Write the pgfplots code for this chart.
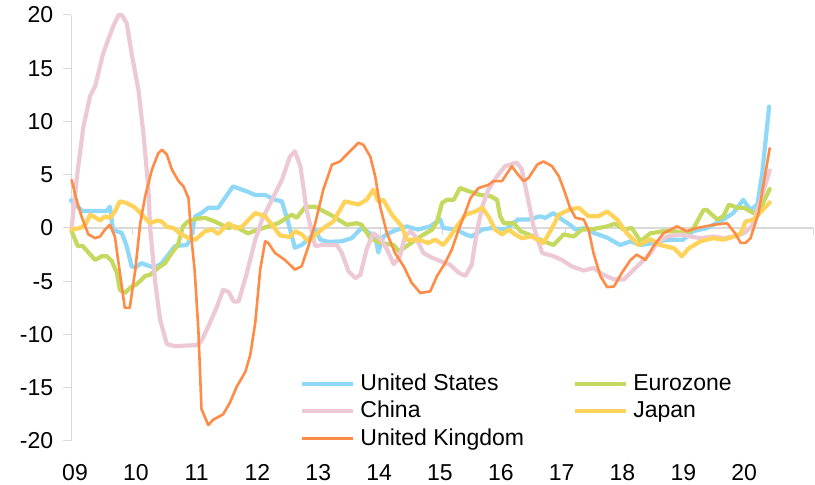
\documentclass[border=0pt]{standalone}
\usepackage{pgfplots}
\pgfplotsset{compat=1.18}
\usepackage{fontspec}
\setmainfont{Liberation Sans}
\definecolor{cUS}{HTML}{8FD8F8}
\definecolor{cEZ}{HTML}{C5D95F}
\definecolor{cCN}{HTML}{ECC9D5}
\definecolor{cJP}{HTML}{FFD25A}
\definecolor{cUK}{HTML}{FF8C46}
\definecolor{axgray}{HTML}{D9D9D9}
\begin{document}
\fontsize{23}{27}\selectfont
\begin{tikzpicture}
\begin{axis}[
  scale only axis,
  width=742pt, height=426pt,
  xmin=2009, xmax=2021,
  ymin=-20, ymax=20,
  axis x line*=bottom,
  axis y line*=left,
  x axis line style={draw=none},
  y axis line style={axgray, line width=1pt},
  xtick={2009.065,2010.048,2011.032,2012.016,2012.999,2013.983,2014.967,2015.951,2016.935,2017.919,2018.903,2019.887},
  xticklabels={09,10,11,12,13,14,15,16,17,18,19,20},
  x tick style={draw=none},
  ytick={-20,-15,-10,-5,0,5,10,15,20},
  yticklabels={-20,-15,-10,-5,0,5,10,15,20},
  y tick style={axgray, line width=1pt},
  tick align=outside,
  major tick length=8pt,
  tick label style={font=\fontsize{23}{27}\selectfont, text=black},
  xticklabel style={yshift=-8pt},
  yticklabel style={xshift=-2pt},
  clip=false,
  legend columns=2,
  legend cell align=left,
  legend image code/.code={\draw[#1, line cap=butt] (0pt,0pt) -- (51pt,0pt);},
  legend style={draw=none, fill=none, inner sep=0pt, outer sep=0pt,
    at={(0.309,0.157)}, anchor=north west,
    font=\fontsize{23}{27}\selectfont,
    row sep=7pt, column sep=0pt,
    nodes={inner xsep=0pt, inner ysep=0pt},
    /tikz/every odd column/.append style={column sep=5pt},
    /tikz/every even column/.append style={column sep=49pt}},
  every axis plot/.append style={line join=round, line cap=round},
]
\draw[axgray, line width=1.5pt] (axis cs:2009,0) -- (axis cs:2021,0);
\pgfplotsinvokeforeach{2010,2011,2012,2013,2014,2015,2016,2017,2018,2019,2020,2021}{
  \draw[axgray, line width=1pt] (axis cs:#1,0) -- ++(0pt,-7pt);
}
% United States
\addplot[cUS, line width=4.2pt] coordinates {
(2009.00,2.6)(2009.18,1.6)(2009.58,1.6)(2009.63,2.0)(2009.68,-0.2)(2009.82,-0.45)
(2009.90,-1.7)(2009.98,-3.6)(2010.04,-3.7)(2010.14,-3.3)(2010.28,-3.6)(2010.36,-3.7)
(2010.47,-3.3)(2010.68,-1.7)(2010.87,-1.6)(2010.93,-1.1)(2011.01,1.1)(2011.11,1.4)
(2011.22,1.9)(2011.38,1.9)(2011.62,3.9)(2011.86,3.4)(2011.98,3.1)(2012.14,3.1)
(2012.30,2.65)(2012.41,2.5)(2012.51,0.6)(2012.62,-1.85)(2012.73,-1.6)(2012.87,-0.9)
(2012.95,-0.15)(2013.03,-1.1)(2013.16,-1.3)(2013.38,-1.25)(2013.54,-0.95)(2013.70,0)
(2013.92,-0.8)(2013.97,-2.3)(2014.05,-0.8)(2014.21,-0.3)(2014.43,0.15)(2014.61,-0.15)
(2014.81,0.15)(2014.97,0.8)(2015.02,0)(2015.24,-0.15)(2015.38,-0.6)(2015.48,-0.8)
(2015.65,-0.15)(2015.81,0)(2016.02,-0.15)(2016.23,0.8)(2016.40,0.8)(2016.59,1.1)
(2016.67,0.95)(2016.80,1.4)(2016.94,0.8)(2017.07,0.3)(2017.16,-0.15)(2017.32,0)
(2017.45,-0.45)(2017.67,-0.9)(2017.88,-1.6)(2018.05,-1.25)(2018.21,-1.6)(2018.42,-1.4)
(2018.64,-1.1)(2018.90,-1.1)(2019.06,-0.3)(2019.29,0)(2019.55,0.8)(2019.71,1.4)
(2019.87,2.65)(2019.99,1.7)(2020.10,2.2)(2020.18,5.2)(2020.29,11.4)
};
\addlegendentry{United States}
% Eurozone
\addplot[cEZ, line width=4.2pt] coordinates {
(2009.01,-0.3)(2009.11,-1.7)(2009.19,-1.7)(2009.39,-3.0)(2009.50,-2.65)(2009.58,-2.65)
(2009.66,-3.1)(2009.74,-4.2)(2009.79,-5.8)(2009.87,-6.1)(2009.98,-5.5)(2010.06,-5.3)
(2010.20,-4.5)(2010.28,-4.4)(2010.41,-3.75)(2010.52,-3.3)(2010.63,-2.35)(2010.73,-1.6)
(2010.81,0.15)(2010.89,0.6)(2011.01,0.85)(2011.17,0.95)(2011.33,0.6)(2011.54,0)
(2011.65,0.15)(2011.86,-0.5)(2012.03,-0.15)(2012.35,0.45)(2012.57,1.25)(2012.65,0.95)
(2012.79,2.0)(2012.95,2.0)(2013.24,1.1)(2013.46,0.3)(2013.62,0.45)(2013.70,0.3)
(2013.84,-0.95)(2014.00,-1.4)(2014.22,-1.6)(2014.30,-2.2)(2014.43,-1.7)(2014.65,-0.8)
(2014.84,-0.15)(2014.92,0.6)(2015.00,2.35)(2015.08,2.65)(2015.19,2.65)(2015.29,3.75)
(2015.46,3.4)(2015.62,3.1)(2015.78,3.0)(2015.89,2.65)(2015.94,1.1)(2016.00,0.45)
(2016.16,0.45)(2016.27,-0.3)(2016.48,-0.8)(2016.59,-1.1)(2016.80,-1.6)(2016.97,-0.6)
(2017.13,-0.8)(2017.26,-0.15)(2017.45,-0.1)(2017.67,0.15)(2017.80,0.4)(2017.94,-0.15)
(2018.07,0)(2018.21,-1.25)(2018.37,-0.5)(2018.58,-0.3)(2018.75,-0.3)(2018.96,-0.5)
(2019.07,0)(2019.23,1.7)(2019.28,1.7)(2019.45,0.8)(2019.55,1.1)(2019.64,2.2)
(2019.77,1.9)(2019.88,1.9)(2020.04,1.4)(2020.15,1.9)(2020.30,3.65)
};
\addlegendentry{Eurozone}
% China
\addplot[cCN, line width=4.2pt] coordinates {
(2009.01,0.0)(2009.10,5.0)(2009.20,9.5)(2009.31,12.4)(2009.39,13.3)(2009.52,16.4)
(2009.68,18.9)(2009.77,20)(2009.82,20)(2009.90,19.25)(2009.98,16.4)(2010.09,13)
(2010.17,8.9)(2010.25,3.9)(2010.28,0)(2010.36,-5)(2010.44,-8.6)(2010.55,-10.9)
(2010.68,-11.1)(2010.82,-11.05)(2011.03,-11.0)(2011.11,-10.6)(2011.22,-9.25)(2011.36,-7.4)
(2011.46,-5.8)(2011.55,-6.0)(2011.63,-6.9)(2011.71,-6.9)(2011.84,-4.3)(2011.98,-1.1)
(2012.09,0.8)(2012.25,2.65)(2012.41,4.5)(2012.54,6.7)(2012.62,7.2)(2012.71,5.8)
(2012.81,1.7)(2012.95,-1.7)(2013.06,-1.6)(2013.30,-1.6)(2013.38,-2.35)(2013.49,-4.1)
(2013.60,-4.7)(2013.68,-4.4)(2013.78,-2.0)(2013.89,-0.5)(2014.00,-0.95)(2014.11,-2.0)
(2014.22,-3.4)(2014.32,-2.65)(2014.40,-0.8)(2014.49,-0.3)(2014.57,-0.8)(2014.70,-2.35)
(2014.84,-2.8)(2014.97,-3.1)(2015.13,-3.45)(2015.27,-4.2)(2015.38,-4.5)(2015.48,-3.45)
(2015.56,-0.5)(2015.65,2.0)(2015.75,3.6)(2015.89,4.85)(2016.02,5.8)(2016.21,6.15)
(2016.29,5.5)(2016.37,3.3)(2016.48,0.15)(2016.62,-2.35)(2016.78,-2.6)(2016.94,-3.0)
(2017.10,-3.6)(2017.29,-4.0)(2017.45,-3.75)(2017.61,-4.4)(2017.77,-4.8)(2017.94,-4.85)
(2018.05,-4.2)(2018.21,-3.3)(2018.37,-2.35)(2018.48,-1.4)(2018.64,-0.8)(2018.85,-0.6)
(2019.02,-0.8)(2019.18,-0.95)(2019.39,-0.8)(2019.55,-0.95)(2019.72,-0.8)(2019.88,-0.5)
(2020.01,0.15)(2020.12,2.0)(2020.30,5.4)
};
\addlegendentry{China}
% Japan
\addplot[cJP, line width=4.2pt] coordinates {
(2009.01,-0.15)(2009.15,0)(2009.23,0.3)(2009.31,1.25)(2009.39,1.0)(2009.47,0.7)
(2009.55,1.1)(2009.63,0.95)(2009.71,1.55)(2009.79,2.5)(2009.90,2.35)(2010.04,1.9)
(2010.17,1.1)(2010.28,0.45)(2010.39,0.7)(2010.47,0.6)(2010.55,0.1)(2010.66,0)
(2010.76,-0.5)(2010.90,-0.95)(2011.01,-1.1)(2011.17,-0.3)(2011.28,-0.15)(2011.38,-0.55)
(2011.55,0.45)(2011.65,0)(2011.76,0.1)(2011.98,1.4)(2012.14,1.1)(2012.27,0.15)
(2012.38,-0.7)(2012.54,-0.85)(2012.62,-0.3)(2012.73,-0.6)(2012.84,-1.25)(2012.98,-0.5)
(2013.11,0.1)(2013.24,0.6)(2013.43,2.5)(2013.65,2.2)(2013.78,2.65)(2013.89,3.6)
(2013.97,2.5)(2014.05,2.65)(2014.19,1.25)(2014.35,0.15)(2014.43,-1.1)(2014.62,-1.1)
(2014.78,-1.4)(2014.89,-1.1)(2015.02,-1.6)(2015.13,-0.8)(2015.24,0.15)(2015.38,1.25)
(2015.54,1.55)(2015.65,1.9)(2015.75,1.1)(2015.86,-0.15)(2015.97,-0.6)(2016.08,-0.15)
(2016.18,-0.6)(2016.29,-0.95)(2016.45,-0.8)(2016.64,-1.4)(2016.78,0)(2016.89,1.25)
(2017.05,1.7)(2017.21,1.9)(2017.37,1.1)(2017.53,1.1)(2017.67,1.55)(2017.83,0.8)
(2017.99,-0.5)(2018.18,-1.6)(2018.37,-1.05)(2018.53,-1.6)(2018.75,-1.9)(2018.88,-2.65)
(2018.99,-1.9)(2019.18,-1.25)(2019.39,-0.95)(2019.55,-1.1)(2019.72,-0.8)(2019.83,-0.5)
(2019.91,0.6)(2020.04,0.8)(2020.30,2.4)
};
\addlegendentry{Japan}
% United Kingdom
\addplot[cUK, line width=2.6pt] coordinates {
(2009.01,4.5)(2009.09,2.65)(2009.17,1.1)(2009.28,-0.6)(2009.39,-0.95)(2009.47,-0.8)
(2009.55,-0.15)(2009.63,0.3)(2009.71,-0.8)(2009.79,-4.2)(2009.87,-7.5)(2009.95,-7.5)
(2010.04,-3.9)(2010.12,0.45)(2010.20,3.0)(2010.31,5.5)(2010.41,7.0)(2010.47,7.35)
(2010.55,6.9)(2010.63,5.5)(2010.74,4.4)(2010.82,3.9)(2010.90,2.8)(2010.95,-1.1)
(2011.00,-4.0)(2011.06,-9.55)(2011.11,-17)(2011.22,-18.5)(2011.30,-18)(2011.46,-17.5)
(2011.57,-16.4)(2011.68,-14.9)(2011.82,-13.5)(2011.90,-11.9)(2011.98,-8.9)(2012.06,-3.9)
(2012.14,-1.25)(2012.19,-1.4)(2012.30,-2.35)(2012.46,-3.0)(2012.62,-3.9)(2012.73,-3.6)
(2012.84,-1.7)(2012.95,0.45)(2013.08,3.6)(2013.22,5.95)(2013.35,6.25)(2013.51,7.2)
(2013.65,8.0)(2013.73,7.8)(2013.84,6.7)(2013.92,4.85)(2014.00,2.0)(2014.11,-0.5)
(2014.24,-2.35)(2014.38,-3.6)(2014.51,-5.15)(2014.65,-6.1)(2014.81,-5.95)(2014.92,-4.5)
(2015.05,-3.3)(2015.16,-2.0)(2015.27,-0.15)(2015.38,1.5)(2015.46,2.8)(2015.59,3.75)
(2015.75,4.05)(2015.83,4.4)(2015.97,4.4)(2016.13,5.8)(2016.21,5.15)(2016.32,4.4)
(2016.40,4.7)(2016.54,5.95)(2016.64,6.25)(2016.78,5.8)(2016.89,4.85)(2016.99,3.3)
(2017.07,1.9)(2017.16,0.95)(2017.29,0.8)(2017.37,-0.15)(2017.45,-2.35)(2017.56,-4.5)
(2017.67,-5.55)(2017.78,-5.5)(2017.91,-4.2)(2018.05,-3.0)(2018.15,-2.5)(2018.29,-3.0)
(2018.42,-1.7)(2018.58,-0.5)(2018.80,0.15)(2018.96,-0.3)(2019.12,0)(2019.26,0.15)
(2019.39,0.3)(2019.61,0.45)(2019.74,-0.5)(2019.83,-1.4)(2019.91,-1.4)(2019.99,-0.95)
(2020.12,1.4)(2020.30,7.5)
};
\addlegendentry{United Kingdom}
\coordinate (BL) at (rel axis cs:0,0);
\coordinate (TR) at (rel axis cs:1,1);
\end{axis}
\pgfresetboundingbox
\path[use as bounding box] ([shift={(-71pt,-44pt)}]BL) rectangle ([shift={(2pt,15pt)}]TR);
\end{tikzpicture}
\end{document}
